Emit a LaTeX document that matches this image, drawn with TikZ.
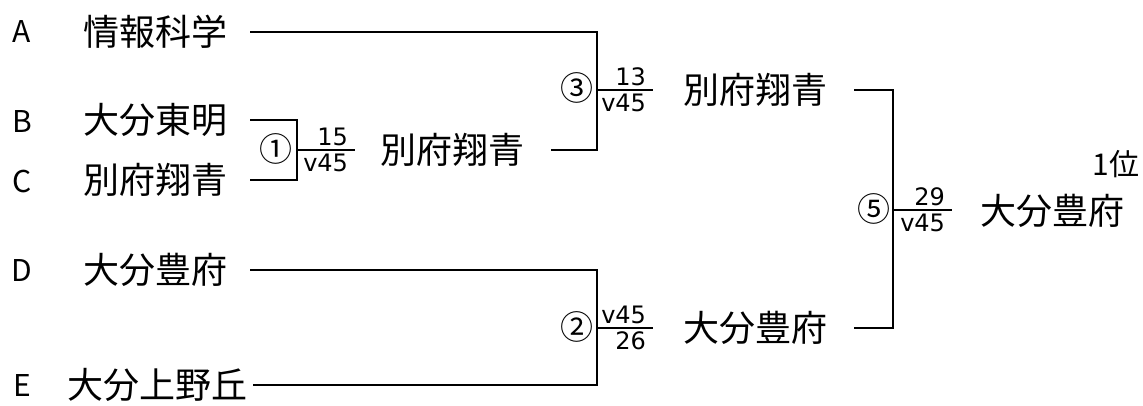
\documentclass[tikz,border=0pt]{standalone}
\usepackage{fontspec}
\setmainfont{Noto Sans CJK JP}
\newfontfamily\scorefont{DejaVu Sans}
\begin{document}
\begin{tikzpicture}[x=1pt,y=-1pt,line width=2pt,
    slot/.style={font=\fontsize{30}{30}\selectfont,inner sep=0pt},
    team/.style={font=\fontsize{36}{36}\selectfont,inner sep=0pt},
    gamenum/.style={font=\fontsize{33}{33}\selectfont,inner sep=0pt},
    score/.style={font=\scorefont\fontsize{24}{24}\selectfont,inner xsep=6pt,inner ysep=3pt}]
    \useasboundingbox (0,0) rectangle (1143,405);
    \node[slot] (lA) at (22,32) {A};
    \node[slot] (lB) at (22,121) {B};
    \node[slot] (lC) at (22,181) {C};
    \node[slot] (lD) at (22,270) {D};
    \node[slot] (lE) at (22,385) {E};
    \node[team,anchor=west] (tA) at (82,32) {情報科学};
    \node[team,anchor=west] (tB) at (82,120) {大分東明};
    \node[team,anchor=west] (tC) at (82,180) {別府翔青};
    \node[team,anchor=west] (tD) at (82,270) {大分豊府};
    \node[team,anchor=west] (tE) at (66,385) {大分上野丘};
    \coordinate (m1) at (297,150);
    \coordinate (e1) at (355,150);
    \coordinate (m3) at (597,90);
    \coordinate (e3) at (653,90);
    \coordinate (m2) at (597,328);
    \coordinate (e2) at (653,328);
    \coordinate (m5) at (893,210);
    \coordinate (e5) at (952,210);
    \node[team,anchor=west] (w1) at (379,150) {別府翔青};
    \node[team,anchor=west] (w3) at (682,90) {別府翔青};
    \node[team,anchor=west] (w2) at (682,328) {大分豊府};
    \node[team,anchor=west] (w5) at (979,211) {大分豊府};
    \node[slot] (rank) at (1116,164) {1位};
    \draw ([xshift=22pt]tB.east) -| (m1) |- ([xshift=22pt]tC.east);
    \draw (m1) -- (e1);
    \draw ([xshift=22pt]tA.east) -| (m3) |- ([xshift=26pt]w1.east);
    \draw (m3) -- (e3);
    \draw ([xshift=22pt]tD.east) -| (m2) |- ([xshift=5pt]tE.east);
    \draw (m2) -- (e2);
    \draw ([xshift=26pt]w3.east) -| (m5) |- ([xshift=26pt]w2.east);
    \draw (m5) -- (e5);
    \node[gamenum] (g1) at (276,149) {①};
    \node[gamenum] (g3) at (577,88) {③};
    \node[gamenum] (g2) at (577,327) {②};
    \node[gamenum] (g5) at (874,209) {⑤};
    \node[score,anchor=south east] (s1a) at (e1) {15};
    \node[score,anchor=north east] (s1b) at (e1) {v45};
    \node[score,anchor=south east] (s3a) at (e3) {13};
    \node[score,anchor=north east] (s3b) at (e3) {v45};
    \node[score,anchor=south east] (s2a) at (e2) {v45};
    \node[score,anchor=north east] (s2b) at (e2) {26};
    \node[score,anchor=south east] (s5a) at (e5) {29};
    \node[score,anchor=north east] (s5b) at (e5) {v45};
\end{tikzpicture}
\end{document}
